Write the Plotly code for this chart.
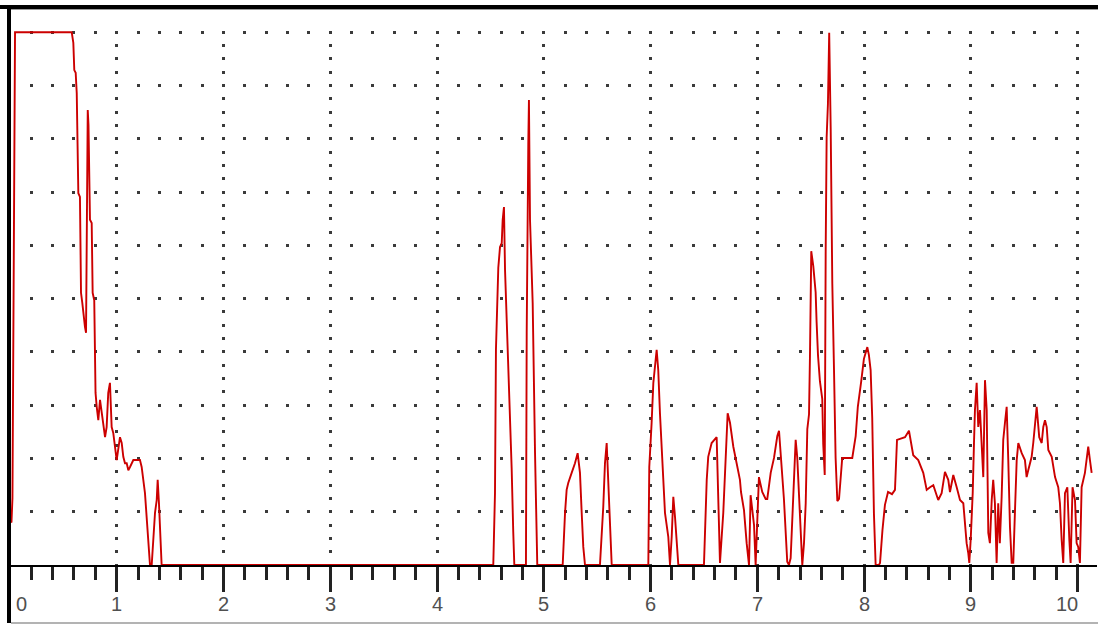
import plotly.graph_objects as go

# signal trace: time (x) and level (y)
time = [
    0.000, 0.015, 0.024, 0.034, 0.048, 0.579, 0.594, 0.603, 0.616, 0.626,
    0.641, 0.656, 0.666, 0.678, 0.687, 0.703, 0.713, 0.719, 0.729, 0.736,
    0.744, 0.750, 0.766, 0.775, 0.790, 0.797, 0.802, 0.813, 0.828, 0.844,
    0.860, 0.891, 0.906, 0.921, 0.937, 0.953, 0.968, 0.984, 1.000, 1.031,
    1.047, 1.062, 1.078, 1.094, 1.109, 1.125, 1.156, 1.218, 1.234, 1.265,
    1.281, 1.296, 1.312, 1.328, 1.343, 1.359, 1.375, 1.384, 1.396, 1.406,
    1.421,
    4.527, 4.543, 4.552, 4.574, 4.590, 4.606, 4.615, 4.627, 4.637, 4.668,
    4.683, 4.699, 4.714, 4.724, 4.833, 4.840, 4.855, 4.861, 4.871, 4.896,
    4.918, 4.939, 5.177, 5.183, 5.199, 5.214, 5.229, 5.261, 5.292, 5.317,
    5.339, 5.355, 5.370, 5.386, 5.526, 5.557, 5.573, 5.589, 5.604, 5.620,
    5.636, 5.979, 5.981, 5.988, 6.010, 6.026, 6.057, 6.072, 6.088, 6.104,
    6.135, 6.166, 6.182, 6.198, 6.213, 6.229, 6.245, 6.260, 6.500, 6.510,
    6.526, 6.540, 6.572, 6.619, 6.634, 6.650, 6.681, 6.697, 6.722, 6.744,
    6.775, 6.806, 6.837, 6.847, 6.875, 6.900, 6.922, 6.937, 6.953, 6.969,
    6.984, 6.999, 7.015, 7.046, 7.078, 7.093, 7.125, 7.156, 7.187, 7.203,
    7.219, 7.249, 7.280, 7.296, 7.312, 7.343, 7.359, 7.374, 7.390, 7.406,
    7.421, 7.437, 7.453, 7.468, 7.484, 7.493, 7.505, 7.524, 7.546, 7.555,
    7.568, 7.586, 7.608, 7.617, 7.631, 7.640, 7.649, 7.661, 7.673, 7.687,
    7.702, 7.718, 7.733, 7.749, 7.765, 7.795, 7.889, 7.921, 7.941, 7.973,
    7.998, 8.030, 8.045, 8.061, 8.076, 8.092, 8.108, 8.139, 8.149, 8.172,
    8.195, 8.224, 8.261, 8.289, 8.308, 8.383, 8.420, 8.460, 8.507, 8.554,
    8.586, 8.617, 8.648, 8.694, 8.726, 8.757, 8.788, 8.804, 8.835, 8.867,
    8.898, 8.929, 8.945, 8.960, 8.975, 8.985, 8.998, 9.017, 9.029, 9.038,
    9.054, 9.069, 9.085, 9.101, 9.116, 9.132, 9.148, 9.163, 9.178, 9.195,
    9.209, 9.225, 9.241, 9.256, 9.271, 9.288, 9.303, 9.319, 9.335, 9.350,
    9.366, 9.382, 9.397, 9.413, 9.429, 9.444, 9.476, 9.506, 9.522, 9.537,
    9.569, 9.584, 9.616, 9.640, 9.663, 9.678, 9.694, 9.710, 9.725, 9.757,
    9.788, 9.818, 9.834, 9.850, 9.865, 9.881, 9.903, 9.922, 9.934, 9.952,
    9.975, 9.990, 10.005, 10.021, 10.037, 10.068, 10.099, 10.115, 10.131,
]
level = [
    0.80, 0.81, 1.26, 5.76, 10.0, 10.0, 9.80, 9.29, 9.24, 8.86,
    6.98, 6.91, 5.11, 4.92, 4.73, 4.47, 4.36, 6.35, 8.54, 8.26,
    6.53, 6.48, 6.42, 5.11, 4.97, 3.98, 3.23, 2.97, 2.72, 3.10,
    2.85, 2.40, 2.59, 3.23, 3.42, 2.59, 2.48, 2.22, 1.97, 2.40,
    2.29, 2.03, 1.91, 1.91, 1.78, 1.84, 1.97, 1.97, 1.84, 1.35,
    0.84, 0.34, 0.00, 0.00, 0.47, 0.98, 1.22, 1.60, 1.16, 0.71,
    0.00,
    0.00, 1.35, 4.04, 5.58, 5.97, 6.04, 6.48, 6.72, 5.54, 3.85,
    2.82, 1.82, 0.62, 0.00, 0.00, 4.36, 7.92, 8.73, 6.48, 4.92,
    2.10, 0.00, 0.00, 0.34, 0.98, 1.41, 1.54, 1.73, 1.91, 2.10,
    1.73, 0.98, 0.34, 0.00, 0.00, 1.09, 1.91, 2.29, 1.60, 0.60,
    0.00, 0.00, 0.47, 1.84, 2.67, 3.42, 4.04, 3.66, 2.85, 2.22,
    0.98, 0.53, 0.00, 0.53, 1.28, 0.90, 0.34, 0.00, 0.00, 0.71,
    1.60, 2.03, 2.29, 2.40, 1.28, 0.04, 0.98, 1.78, 2.85, 2.67,
    2.22, 1.91, 1.60, 1.37, 1.03, 0.41, 0.00, 1.31, 1.03, 0.75,
    0.00, 0.75, 1.65, 1.37, 1.24, 1.24, 1.73, 2.01, 2.42, 2.52,
    2.06, 1.24, 0.06, 0.00, 0.13, 1.45, 2.35, 2.01, 1.37, 0.68,
    0.00, 0.41, 1.16, 2.55, 2.83, 3.94, 5.89, 5.61, 5.12, 4.56,
    3.94, 3.45, 3.12, 2.27, 1.69, 5.89, 8.03, 8.65, 9.99, 8.18,
    5.29, 3.66, 2.01, 1.20, 1.24, 2.01, 2.01, 2.42, 2.97, 3.45,
    3.87, 4.09, 3.94, 3.66, 2.76, 0.96, 0.00, 0.00, 0.04, 0.66,
    1.13, 1.37, 1.33, 1.41, 2.35, 2.40, 2.52, 2.06, 1.97, 1.73,
    1.41, 1.46, 1.50, 1.22, 1.35, 1.75, 1.60, 1.37, 1.69, 1.46,
    1.22, 1.16, 0.71, 0.41, 0.23, 0.04, 0.47, 1.35, 2.29, 2.91,
    3.42, 2.59, 2.91, 2.10, 1.65, 3.47, 2.91, 0.60, 0.41, 1.22,
    1.60, 1.16, 0.04, 1.16, 0.41, 1.28, 2.35, 2.67, 2.97, 1.97,
    0.71, 0.04, 0.04, 1.03, 1.97, 2.29, 2.10, 1.97, 1.65, 1.78,
    2.03, 2.29, 2.97, 2.40, 2.29, 2.59, 2.72, 2.59, 2.16, 2.03,
    1.65, 1.46, 1.16, 0.47, 0.04, 1.35, 1.46, 0.47, 0.04, 1.46,
    1.22, 0.41, 0.34, 0.04, 1.46, 1.73, 2.22, 1.97, 1.73,
]

tick_positions = [0, 1, 2, 3, 4, 5, 6, 7, 8, 9, 10]
tick_labels = ["0", "1", "2", "3", "4", "5", "6", "7", "8", "9", "10"]

W, H = 1098, 626
M_L, M_R, M_T, M_B = 11, 1, 29, 61
X_RANGE = [0.0103, 10.181]
Y_RANGE = [0, 10.062]
DOT = 3

plot_w = W - M_L - M_R
plot_h = H - M_T - M_B
px_per_x = plot_w / (X_RANGE[1] - X_RANGE[0])
px_per_y = plot_h / (Y_RANGE[1] - Y_RANGE[0])


def dot_pattern(period, first_center):
    # dasharray giving square dots every `period` px, aligned to data positions
    start = (first_center - DOT / 2) % period
    end = start + DOT
    if end <= period:
        return f"0px,{start:.3f}px,{DOT}px,{period - end:.3f}px"
    over = end - period
    return f"{over:.3f}px,{period - DOT:.3f}px,{DOT - over:.3f}px,0px"


# horizontal grid rows are drawn left->right, dots every 0.2 in x
row_dash = dot_pattern(0.2 * px_per_x, (0 - X_RANGE[0]) * px_per_x)
# vertical grid columns are drawn top->bottom, dots every 0.25 in y
col_dash = dot_pattern(0.25 * px_per_y, (Y_RANGE[1] - 10) * px_per_y)

fig = go.Figure()
fig.add_trace(go.Scatter(
    x=time, y=level, mode="lines",
    line=dict(color="#cc0000", width=1.9),
    cliponaxis=False, hoverinfo="skip",
))

fig.update_xaxes(
    range=X_RANGE, tickmode="linear", tick0=0, dtick=1,
    showgrid=True, gridcolor="#3a3a3a", gridwidth=DOT, griddash=col_dash,
    zeroline=False, showline=True, linecolor="black", linewidth=2,
    ticks="outside", ticklen=25, tickwidth=3, tickcolor="#222",
    minor=dict(tick0=0, dtick=0.2, ticks="outside", ticklen=13,
               tickwidth=3, tickcolor="#222", showgrid=False),
    showticklabels=False, layer="below traces", fixedrange=True,
)
fig.update_yaxes(
    range=Y_RANGE, tickmode="linear", tick0=0, dtick=1,
    showgrid=True, gridcolor="#3a3a3a", gridwidth=DOT, griddash=row_dash,
    zeroline=False, showline=False, showticklabels=False, ticks="",
    fixedrange=True,
)

annotations = []
for pos, lab in zip(tick_positions, tick_labels):
    x = max(pos, X_RANGE[0])
    if pos == tick_positions[0]:
        anchor, shift = "left", 3
    elif pos == tick_positions[-1]:
        anchor, shift = "right", 2
    else:
        anchor, shift = "center", 0
    annotations.append(dict(
        x=x, y=0, xref="x", yref="paper", text=lab, showarrow=False,
        xanchor=anchor, yanchor="middle", xshift=shift, yshift=-39,
        font=dict(family="Liberation Sans, Arial", size=20, color="#505050"),
    ))


def px_x(px):
    return (px - M_L) / plot_w


def px_y(py):
    return (H - M_B - py) / plot_h


shapes = [
    # sunken frame: black top and left edges, grey bottom edge
    dict(type="rect", xref="paper", yref="paper", x0=px_x(0), x1=px_x(W),
         y0=px_y(9), y1=px_y(5), fillcolor="black", line_width=0),
    dict(type="rect", xref="paper", yref="paper", x0=px_x(7), x1=px_x(11),
         y0=px_y(623), y1=px_y(5), fillcolor="black", line_width=0),
    dict(type="line", xref="paper", yref="paper", x0=px_x(11), x1=px_x(W),
         y0=px_y(9.5), y1=px_y(9.5), line=dict(color="#9a9a9a", width=1)),
    dict(type="line", xref="paper", yref="paper", x0=px_x(11), x1=px_x(W),
         y0=px_y(623), y1=px_y(623), line=dict(color="#9a9a9a", width=1.5)),
]

fig.update_layout(
    width=W, height=H,
    margin=dict(l=M_L, r=M_R, t=M_T, b=M_B),
    paper_bgcolor="white", plot_bgcolor="white",
    showlegend=False, annotations=annotations, shapes=shapes,
)

fig.write_html("out.html", config={"displayModeBar": False},
               post_script="document.body.style.margin='0';")
